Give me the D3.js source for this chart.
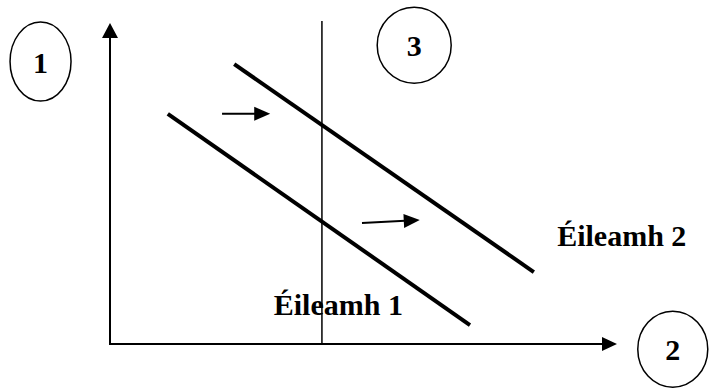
<!DOCTYPE html>
<html>
<head>
<meta charset="utf-8">
<script src="https://cdn.jsdelivr.net/npm/d3@7.9.0/dist/d3.min.js"></script>
<style>
  body { margin: 0; background: #fff; }
  svg { display: block; }
  .lbl { font-family: "Liberation Serif", "Times New Roman", serif; font-weight: bold; font-size: 30px; fill: #000; }
</style>
</head>
<body>
<svg id="chart"></svg>
<script>
// diagram values, in axis units (0..100 on both axes)
const demand1 = [[11.4, 71.7], [71.0, 5.9]];
const demand2 = [[24.5, 87.2], [83.6, 22.4]];
const supplyX = 41.8;
const supplyTop = 100.6;
const shifts = [
  [[22.1, 71.7], [31.6, 71.7]],
  [[49.7, 37.7], [61.1, 38.6]]
];
const curveLabels = [
  { text: "Éileamh 1", x: 32.3, y: 9.0 },
  { text: "Éileamh 2", x: 88.2, y: 30.5 }
];
const bubbles = [
  { text: "1", x: -13.7, y: 88.0, rx: 30.5, ry: 39.5 },
  { text: "3", x: 60.0, y: 93.1, rx: 37, ry: 38 },
  { text: "2", x: 111.0, y: -1.6, rx: 35, ry: 38 }
];

const width = 710, height = 390;
const x = d3.scaleLinear().domain([0, 100]).range([110, 617]);
const y = d3.scaleLinear().domain([0, 100]).range([344, 23]);

const svg = d3.select('#chart').attr('width', width).attr('height', height);

// arrowhead drawn as a triangle at the end of a segment
function arrowHead(x1, y1, x2, y2, len, half) {
  const a = Math.atan2(y2 - y1, x2 - x1);
  const bx = x2 - len * Math.cos(a), by = y2 - len * Math.sin(a);
  const px = -Math.sin(a) * half, py = Math.cos(a) * half;
  return `M${x2},${y2}L${bx + px},${by + py}L${bx - px},${by - py}Z`;
}

// axes
svg.append('line')
  .attr('x1', x(0)).attr('y1', y(0)).attr('x2', x(0)).attr('y2', y(100) + 14)
  .attr('stroke', '#000').attr('stroke-width', 2);
svg.append('path').attr('d', arrowHead(x(0), y(0), x(0), y(100), 15, 8)).attr('fill', '#000');
svg.append('line')
  .attr('x1', x(0) - 1).attr('y1', y(0)).attr('x2', x(100) - 14).attr('y2', y(0))
  .attr('stroke', '#000').attr('stroke-width', 2);
svg.append('path').attr('d', arrowHead(x(0), y(0), x(100), y(0), 15, 7)).attr('fill', '#000');

// supply (vertical)
svg.append('line')
  .attr('x1', x(supplyX)).attr('y1', y(0)).attr('x2', x(supplyX)).attr('y2', y(supplyTop))
  .attr('stroke', '#000').attr('stroke-width', 1.5);

// demand curves
const line = d3.line().x(d => x(d[0])).y(d => y(d[1]));
svg.selectAll('path.demand')
  .data([demand1, demand2])
  .join('path')
  .attr('class', 'demand')
  .attr('d', line)
  .attr('fill', 'none')
  .attr('stroke', '#000')
  .attr('stroke-width', 4);

// shift arrows
shifts.forEach(s => {
  const [x1, y1, x2, y2] = [x(s[0][0]), y(s[0][1]), x(s[1][0]), y(s[1][1])];
  svg.append('line')
    .attr('x1', x1).attr('y1', y1).attr('x2', x2 - 10).attr('y2', y2 + (y1 - y2) * 10 / (x2 - x1))
    .attr('stroke', '#000').attr('stroke-width', 2);
  svg.append('path').attr('d', arrowHead(x1, y1, x2, y2, 16, 7)).attr('fill', '#000');
});

// curve labels
svg.selectAll('text.curve')
  .data(curveLabels)
  .join('text')
  .attr('class', 'lbl curve')
  .attr('x', d => x(d.x))
  .attr('y', d => y(d.y))
  .text(d => d.text);

// numbered bubbles
const b = svg.selectAll('g.bubble')
  .data(bubbles)
  .join('g')
  .attr('class', 'bubble')
  .attr('transform', d => `translate(${x(d.x)},${y(d.y)})`);
b.append('ellipse')
  .attr('rx', d => d.rx).attr('ry', d => d.ry)
  .attr('fill', 'none').attr('stroke', '#000').attr('stroke-width', 1.5);
b.append('text')
  .attr('class', 'lbl')
  .attr('text-anchor', 'middle')
  .attr('y', 11)
  .text(d => d.text);
</script>
</body>
</html>
